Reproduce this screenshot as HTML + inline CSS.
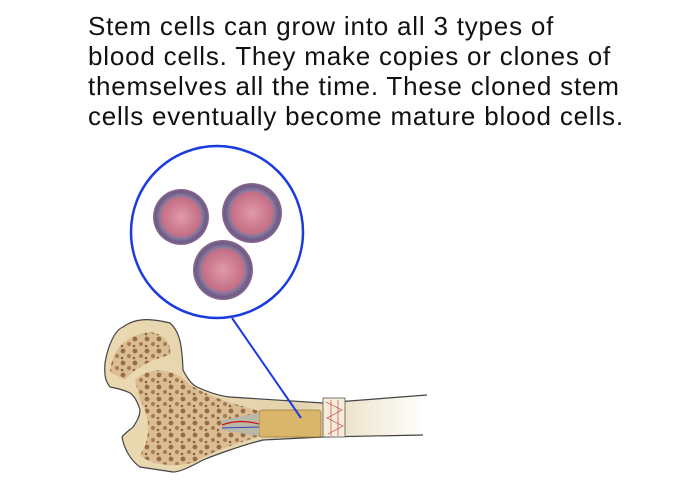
<!DOCTYPE html>
<html><head><meta charset="utf-8"><style>
html,body{margin:0;padding:0;background:#fff;width:700px;height:480px;overflow:hidden}
.t{position:absolute;left:88px;top:11px;font-family:"Liberation Sans",Arial,sans-serif;font-size:26px;letter-spacing:0.8px;line-height:30px;color:#111;white-space:nowrap}
svg{position:absolute;left:0;top:0}
</style></head><body>
<svg width="700" height="480" viewBox="0 0 700 480">
<defs>
<radialGradient id="cell" cx="50%" cy="50%" r="50%">
<stop offset="0" stop-color="#e09aa8"/><stop offset="0.68" stop-color="#c56f86"/><stop offset="0.76" stop-color="#8a7a9e"/><stop offset="0.9" stop-color="#6e5a86"/><stop offset="1" stop-color="#8a6a90"/>
</radialGradient>
<linearGradient id="shaft" x1="0" x2="1" y1="0" y2="0">
<stop offset="0" stop-color="#ead8b0"/><stop offset="0.6" stop-color="#e4d4ae"/><stop offset="1" stop-color="#ffffff"/>
</linearGradient>
<pattern id="spongy" width="12" height="12" patternUnits="userSpaceOnUse">
<rect width="12" height="12" fill="#d8b890"/>
<circle cx="3" cy="3" r="2.4" fill="#8a5a30"/><circle cx="9" cy="8" r="2" fill="#9a6a3a"/><circle cx="2" cy="10" r="1.3" fill="#7a4a28"/>
</pattern>
</defs>
<circle cx="217" cy="232" r="86" fill="#fff" stroke="#1a3be0" stroke-width="2.5"/>
<circle cx="181" cy="217" r="28" fill="url(#cell)"/>
<circle cx="252" cy="213" r="30" fill="url(#cell)"/>
<circle cx="223" cy="270" r="30" fill="url(#cell)"/>
<!-- bone -->
<path d="M105,363 C108,345 115,330 123,327 C135,318 150,318 170,323 C178,330 182,340 183,370 C188,380 193,385 197,387 C210,393 220,396 230,397 L323,403 L427,395 L423,435 L323,437 L263,440 C240,446 215,455 203,460 C190,467 180,472 173,472 L140,467 C130,460 124,448 122,437 C126,432 130,430 133,427 C138,420 140,415 140,410 C137,400 133,395 130,393 C122,389 115,388 110,387 C106,382 104,377 105,363 Z" fill="url(#shaft)"/>
<path d="M427,395 L323,403 L230,397 C220,396 210,393 197,387 C193,385 188,380 183,370 C182,340 178,330 170,323 C150,318 135,318 123,327 C115,330 108,345 105,363 C104,377 106,382 110,387 C115,388 122,389 130,393 C133,395 137,400 140,410 C140,415 138,420 133,427 C130,430 126,432 122,437 C124,448 130,460 140,467 L173,472 C180,472 190,467 203,460 C215,455 240,446 263,440 L323,437 L423,435" fill="none" stroke="#444" stroke-width="1.2"/>
<path d="M110,372 C112,350 125,335 150,332 C165,334 172,345 170,355 C150,360 135,368 125,380 Z" fill="url(#spongy)" opacity="0.85"/>
<path d="M135,380 C150,365 175,368 190,385 C215,400 240,405 262,412 L262,436 C240,442 215,450 195,462 C175,468 150,465 140,455 C150,440 152,420 140,400 Z" fill="url(#spongy)" opacity="0.85"/>
<rect x="259" y="410" width="62" height="27" rx="3" fill="#d9b66a" stroke="#9a7a3a" stroke-width="0.8"/>
<path d="M222,420 L259,413 L259,436 L222,430 Z" fill="#b8b8a8"/>
<path d="M222,425 C235,420 248,421 259,424" stroke="#d01010" stroke-width="1.2" fill="none"/>
<path d="M222,428 L259,427" stroke="#4040c0" stroke-width="1" fill="none"/>
<rect x="323" y="398" width="22" height="39" fill="#f6ecd8" stroke="#555" stroke-width="0.8"/>
<path d="M326,402 L342,410 L327,418 L343,426 L328,434 M331,400 L331,436 M338,400 L338,436" stroke="#c03040" stroke-width="0.6" fill="none"/>
<line x1="232" y1="318" x2="301" y2="418" stroke="#1a3be0" stroke-width="2"/>
</svg>
<div class="t">Stem cells can grow into all 3 types of<br>blood cells. They make copies or clones of<br>themselves all the time. These cloned stem<br>cells eventually become mature blood cells.</div>
</body></html>
